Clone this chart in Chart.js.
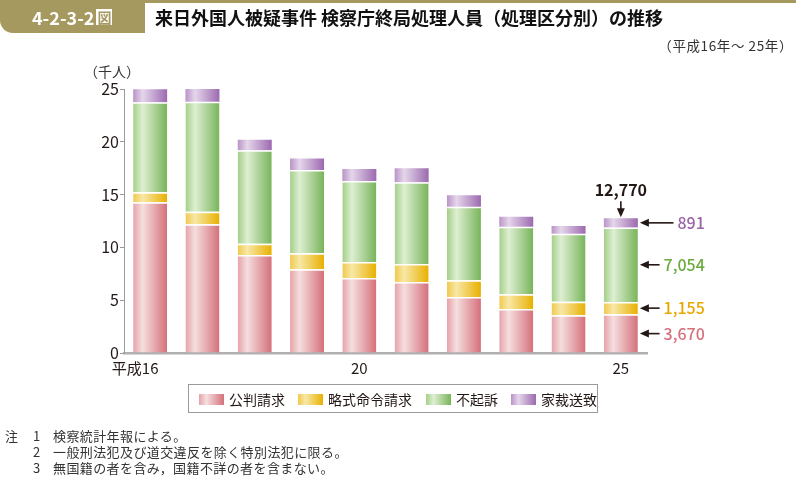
<!DOCTYPE html>
<html><head><meta charset="utf-8">
<script src="https://cdn.jsdelivr.net/npm/chart.js@4/dist/chart.umd.min.js"></script>
<style>
html,body{margin:0;padding:0;background:#fff;}
body{width:796px;height:477px;position:relative;overflow:hidden;font-family:"Noto Sans CJK JP","Noto Sans",sans-serif;color:#231815;}
#c{position:absolute;left:0;top:0;width:796px;height:477px;}
.abs{position:absolute;white-space:nowrap;}
#topline{left:0;top:0;width:796px;height:3px;background:#a6995f;}
#tab{left:0;top:0;width:145px;height:33px;background:#a6995f;border-bottom-left-radius:13px;}
#tabtxt{left:32px;top:5px;font-size:18px;font-weight:700;color:#fff;line-height:24px;}
#tabtxt .zu{display:inline-block;background:#fff;color:#a6995f;font-size:14px;line-height:16px;padding:0 1px;margin-left:2px;vertical-align:2px;}
#title{left:155px;top:5px;font-size:18px;font-weight:700;line-height:24px;color:#111;}
#sub{right:3px;top:36px;font-size:13.5px;line-height:18px;color:#333;letter-spacing:0.6px;}
#unit{left:84px;top:62px;font-size:14px;line-height:18px;color:#333;}
#legend{left:188px;top:384px;width:410px;height:29px;border:1px solid #9a9a9a;box-sizing:border-box;}
.li{position:absolute;top:0;height:29px;line-height:28px;font-size:14px;color:#231815;}
.sw{position:absolute;top:9px;width:25px;height:11px;}
.notes{font-size:13px;line-height:16px;color:#333;letter-spacing:0.4px;}
</style></head>
<body>
<canvas id="c" width="796" height="477"></canvas>
<div class="abs" id="topline"></div>
<div class="abs" id="tab"></div>
<div class="abs" id="tabtxt">4-2-3-2<span class="zu">図</span></div>
<div class="abs" id="title">来日外国人被疑事件 検察庁終局処理人員（処理区分別）の推移</div>
<div class="abs" id="sub">（平成16年～ 25年）</div>
<div class="abs" id="unit">（千人）</div>
<div class="abs" id="legend"></div>
<div class="abs notes" style="left:5px;top:428px;">注</div>
<div class="abs notes" style="left:33px;top:428px;">1</div>
<div class="abs notes" style="left:53px;top:428px;">検察統計年報による。</div>
<div class="abs notes" style="left:33px;top:444px;">2</div>
<div class="abs notes" style="left:53px;top:444px;">一般刑法犯及び道交違反を除く特別法犯に限る。</div>
<div class="abs notes" style="left:33px;top:460px;">3</div>
<div class="abs notes" style="left:53px;top:460px;">無国籍の者を含み，国籍不詳の者を含まない。</div>
<script>
// ---- data (thousand persons) ----
const years = ["16","17","18","19","20","21","22","23","24","25"];
const xTickLabels = ["平成16","","","","20","","","","","25"];
const seriesNames = ["公判請求","略式命令請求","不起訴","家裁送致"];
const kouhan   = [14.27, 12.20, 9.28, 7.93, 7.10, 6.72, 5.30, 4.17, 3.57, 3.670];
const ryakushiki = [0.95, 1.18, 1.07, 1.51, 1.52, 1.71, 1.58, 1.39, 1.29, 1.155];
const fukiso   = [8.53, 10.42, 8.85, 7.89, 7.67, 7.73, 6.98, 6.40, 6.44, 7.054];
const kasai    = [1.23, 1.20, 1.00, 1.10, 1.13, 1.33, 1.07, 0.95, 0.73, 0.891];
const lastTotalLabel = "12,770";
const lastLabels = ["3,670","1,155","7,054","891"];
const yTicks = [0,5,10,15,20,25];

// ---- styles ----
const grads = [
  ["#e6a2a9","#f5dede","#d5707b"],
  ["#f0c94e","#f8e8a6","#e8b000"],
  ["#a3cf88","#deefd2","#78b45a"],
  ["#b993c7","#e5d6eb","#9c69af"]
];
const labelColors = ["#d8707c","#e6a800","#6aab3e","#9a63a8"];
const flat = ["#e29aa2","#f0c84a","#9ccb80","#b48cc2"];

function makeBg(i){
  return function(ctx){
    const chart = ctx.chart;
    if(ctx.type !== 'data' || !chart.chartArea) return flat[i];
    const xs = chart.scales.x;
    const cx = xs.getPixelForValue(ctx.dataIndex);
    const w = xs.width / years.length * 0.65;
    const g = chart.ctx.createLinearGradient(cx - w/2, 0, cx + w/2, 0);
    g.addColorStop(0, grads[i][0]);
    g.addColorStop(0.28, grads[i][1]);
    g.addColorStop(1, grads[i][2]);
    return g;
  };
}

// legend (HTML)
const legendPos = [[10,40],[109,139],[237,267],[322,352]];
const lg = document.getElementById('legend');
seriesNames.forEach((n,i)=>{
  const sw = document.createElement('div');
  sw.className='sw';
  sw.style.left = legendPos[i][0]+'px';
  sw.style.background = `linear-gradient(to right, ${grads[i][0]}, ${grads[i][1]} 30%, ${grads[i][2]})`;
  lg.appendChild(sw);
  const t = document.createElement('div');
  t.className='li'; t.style.left = legendPos[i][1]+'px'; t.textContent = n;
  lg.appendChild(t);
});

const annot = {
  id:'annot',
  afterDraw(chart){
    const c = chart.ctx, xs = chart.scales.x, ys = chart.scales.y;
    const li = years.length - 1;
    const cx = xs.getPixelForValue(li);
    const w = xs.width / years.length * 0.65;
    const right = cx + w/2;
    const vals = [kouhan[li], ryakushiki[li], fukiso[li], kasai[li]];
    c.save();
    c.font = '500 16px "Noto Sans CJK JP","Noto Sans",sans-serif';
    c.textBaseline = 'middle';
    let cum = 0;
    const labelRight = right + 67;
    vals.forEach((v,i)=>{
      const y = ys.getPixelForValue(cum + v/2);
      cum += v;
      c.fillStyle = labelColors[i];
      c.textAlign = 'right';
      c.fillText(lastLabels[i], labelRight, y);
      const tw = c.measureText(lastLabels[i]).width;
      const x0 = right + 2, x1 = labelRight - tw - 4;
      c.strokeStyle = '#231815'; c.fillStyle = '#231815'; c.lineWidth = 1.6;
      c.beginPath(); c.moveTo(x0+8, y); c.lineTo(x1, y); c.stroke();
      c.beginPath(); c.moveTo(x0, y); c.lineTo(x0+9, y-4); c.lineTo(x0+9, y+4); c.closePath(); c.fill();
    });
    // total
    const yt = ys.getPixelForValue(cum);
    c.fillStyle = '#231815';
    c.font = '600 16px "Noto Sans CJK JP","Noto Sans",sans-serif';
    c.textAlign = 'center';
    c.fillText(lastTotalLabel, cx, yt - 28);
    c.beginPath(); c.moveTo(cx, yt - 17); c.lineTo(cx, yt - 8); c.stroke();
    c.beginPath(); c.moveTo(cx, yt - 1); c.lineTo(cx - 4, yt - 10); c.lineTo(cx + 4, yt - 10); c.closePath(); c.fill();
    // x labels
    c.font = '15px "Noto Sans CJK JP","Noto Sans",sans-serif';
    c.textBaseline = 'middle';
    xTickLabels.forEach((t,i)=>{
      if(!t) return;
      const x = xs.getPixelForValue(i);
      if(t.length > 2){
        const num = t.slice(-2);
        const nw = c.measureText(num).width;
        c.textAlign = 'right';
        c.fillText(t, x + nw/2, 368);
      } else {
        c.textAlign = 'center';
        c.fillText(t, x, 368);
      }
    });
    c.restore();
  }
};

const dataArrs = [kouhan, ryakushiki, fukiso, kasai];
new Chart(document.getElementById('c'), {
  type:'bar',
  data:{
    labels: years,
    datasets: dataArrs.map((d,i)=>({
      label: seriesNames[i],
      data: d,
      backgroundColor: makeBg(i),
      borderColor:'#ffffff',
      borderWidth: i < 3 ? {top:1.5,left:0,right:0,bottom:0} : 0,
      borderSkipped: false,
      barPercentage: 0.65,
      categoryPercentage: 1.0
    }))
  },
  options:{
    responsive:false,
    animation:false,
    devicePixelRatio:1,
    layout:{padding:{left:0, top:89, right:149, bottom:124}},
    plugins:{legend:{display:false}, tooltip:{enabled:false}},
    scales:{
      x:{
        stacked:true,
        grid:{display:false},
        border:{display:true, color:'#b0b0b0', width:2.5},
        ticks:{display:false},
        afterFit(s){ s.height = 0; }
      },
      y:{
        stacked:true,
        min:0, max:25,
        afterBuildTicks(s){ s.ticks = yTicks.map(v=>({value:v})); },
        grid:{display:true, drawOnChartArea:false, drawTicks:true, tickLength:4, color:'#9a9a9a', lineWidth:1},
        border:{display:true, color:'#9a9a9a', width:1},
        ticks:{padding:1, color:'#231815', font:{size:16, family:'"Noto Sans CJK JP","Noto Sans",sans-serif'}},
        afterFit(s){ s.width = 124; }
      }
    }
  },
  plugins:[annot]
});
</script>
</body></html>
